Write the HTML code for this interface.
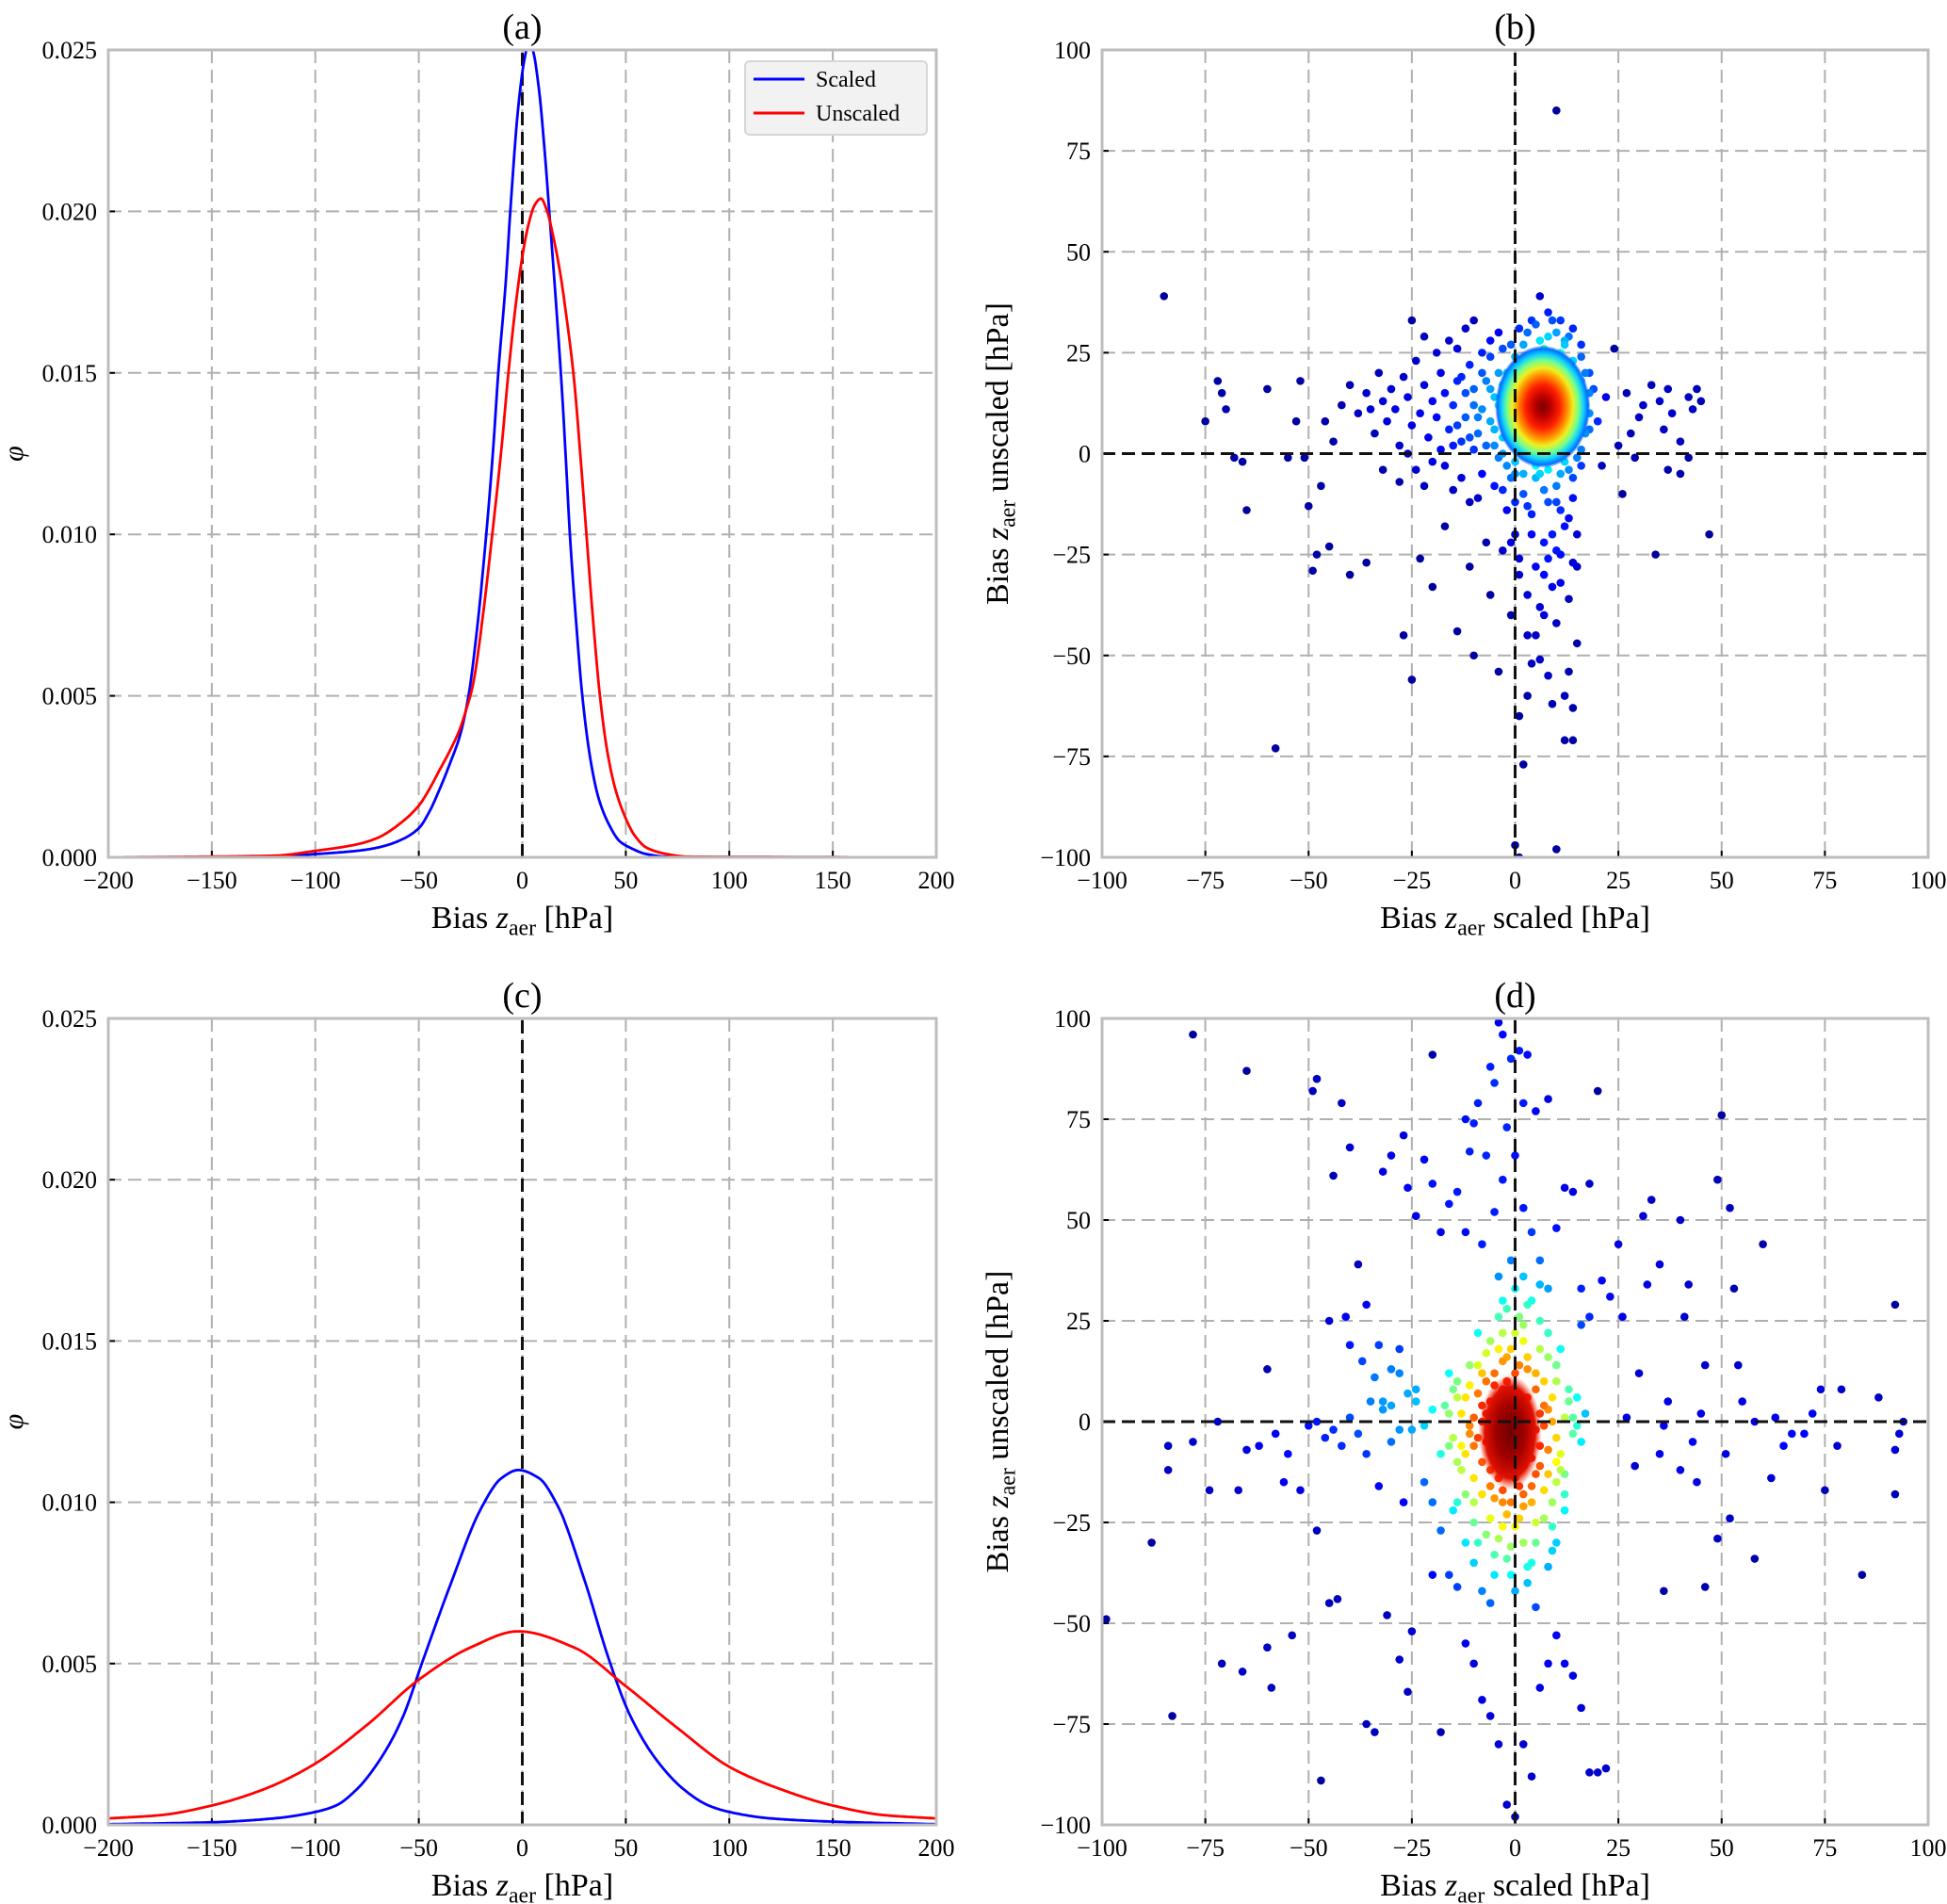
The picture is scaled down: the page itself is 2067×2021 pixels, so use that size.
<!DOCTYPE html>
<html><head><meta charset="utf-8"><style>
html,body{margin:0;padding:0;background:#fff}
svg{display:block;font-family:"Liberation Serif",serif}
</style></head><body>
<svg id="fig" width="2067" height="2021" viewBox="0 0 2067 2021" xmlns="http://www.w3.org/2000/svg">
<defs>
<radialGradient id="blobB" cx="50%" cy="50%" r="50%">
<stop offset="0" stop-color="#7a0000"/><stop offset="0.18" stop-color="#c00000"/><stop offset="0.36" stop-color="#ff2000"/><stop offset="0.52" stop-color="#ff9000"/><stop offset="0.64" stop-color="#f0f020"/><stop offset="0.76" stop-color="#70ff90"/><stop offset="0.86" stop-color="#10d0ff"/><stop offset="0.95" stop-color="#0070ff"/><stop offset="1" stop-color="#0040ff" stop-opacity="0"/>
</radialGradient>
<radialGradient id="blobD" cx="50%" cy="50%" r="50%">
<stop offset="0" stop-color="#700000"/><stop offset="0.45" stop-color="#a00000"/><stop offset="0.8" stop-color="#e01000"/><stop offset="1" stop-color="#ff3000" stop-opacity="0"/>
</radialGradient>
</defs>
</svg>
<script>
// ---------- data ----------
const xTicksPdf = [-200,-150,-100,-50,0,50,100,150,200];
const yTicksPdf = [0,0.005,0.010,0.015,0.020,0.025];
const yTickLabelsPdf = ["0.000","0.005","0.010","0.015","0.020","0.025"];
const ticksScatter = [-100,-75,-50,-25,0,25,50,75,100];

const aScaledX = [-200,-120,-100,-80,-70,-60,-50,-45,-40,-35,-30,-26,-22,-17.4,-14,-11.6,-8,-5.8,-2,1,3,5,8,11,13,16,18.6,21,23,26,29,33,37,42,47,52,60,70,200];
const aScaledY = [0,0.00002,0.0001,0.0002,0.0003,0.0005,0.0009,0.0014,0.0021,0.0029,0.0038,0.0050,0.0070,0.0100,0.0127,0.0150,0.0178,0.0200,0.0232,0.0247,0.0252,0.0250,0.0238,0.0217,0.0200,0.0174,0.0150,0.0124,0.0100,0.0073,0.0050,0.0030,0.0018,0.0010,0.0005,0.0003,0.0001,0.00002,0];
const aUnscaledX = [-200,-120,-100,-80,-70,-60,-50,-45,-40,-35,-30,-27,-24,-19,-14.5,-10,-6.7,-3,0,3,6,9,12,15,18,21,25,28,31,34,37.5,41,45,50,54,60,70,80,200];
const aUnscaledY = [0,0.00005,0.0002,0.0004,0.0006,0.0010,0.0016,0.0021,0.0027,0.0033,0.0040,0.0046,0.0053,0.0075,0.0100,0.0127,0.0150,0.0172,0.0186,0.0196,0.0202,0.0204,0.0200,0.0192,0.0182,0.0169,0.0148,0.0125,0.0100,0.0075,0.0050,0.0033,0.0021,0.0012,0.0007,0.0003,0.0001,0.00002,0];
const cScaledX = [-200,-150,-120,-100,-90,-80,-69,-58,-48,-35,-20,-10,-2,8,17,30,42,52,65,78,90,100,120,150,200];
const cScaledY = [0.00002,0.00008,0.0002,0.0004,0.0006,0.0011,0.002,0.0033,0.0051,0.0074,0.0098,0.01075,0.011,0.01075,0.0099,0.0076,0.0051,0.0034,0.002,0.0011,0.0006,0.0004,0.0002,0.0001,0.00002];
const cUnscaledX = [-200,-175,-150,-125,-100,-75,-50,-25,-2,25,50,75,100,125,150,175,200];
const cUnscaledY = [0.0002,0.0003,0.0006,0.0011,0.0019,0.0031,0.0045,0.0055,0.006,0.0055,0.0043,0.003,0.0018,0.0011,0.0006,0.0003,0.0002];

const bPoints = "7,11 6,10 8,12 7,13 5,11 9,10 6,12 8,9 7,8 6,14 8,14 5,9 9,13 4,12 10,11 7,15 6,7 8,6 5,14 9,15 4,9 10,8 3,11 11,12 7,17 6,5 8,4 4,15 10,15 3,8 11,9 2,12 12,11 7,19 5,17 9,18 6,3 8,2 3,15 11,16 2,9 12,8 1,11 13,12 7,21 4,19 10,20 5,1 9,1 2,17 12,17 1,6 13,7 0,13 14,11 6,23 8,23 3,21 11,22 4,3 10,3 0,17 14,16 -1,9 15,9 2,4 12,4 1,20 13,20 -1,14 15,14 5,25 9,25 7,26 3,24 11,25 -2,11 -2,6 15,5 0,2 14,2 -3,17 16,18 2,27 12,27 -3,4 6,28 8,29 0,24 14,23 -4,20 -5,14 -6,8 -5,2 -3,26 16,24 16,1 17,12 -7,18 -8,11 -6,24 -9,5 -4,-1 -2,-3 0,-2 3,-1 6,0 9,-1 12,-2 15,-1 18,6 18,20 -10,16 -11,22 -12,9 -13,3 -14,18 -15,12 -16,6 -17,15 -18,20 -19,9 -20,13 -21,4 -22,17 -23,10 -24,23 -25,7 -26,14 -27,19 -28,2 -29,11 -30,16 -31,8 -32,13 -33,20 -34,5 -35,11 -36,15 -14,26 -16,28 -19,25 -22,29 -25,33 -12,31 -10,33 -17,-3 -20,-2 -24,-4 -28,-7 -13,-6 -15,-9 -11,-12 -22,-8 -26,0 -18,1 -8,-5 -10,1 -32,-4 -38,10 -40,17 -42,12 -44,3 -46,8 -48,-25 -49,-29 -52,18 -53,8 -51,-1 -58,-73 -60,16 -65,-14 -66,-2 -70,11 -71,15 -72,18 -68,-1 -75,8 -85,39 -50,-13 -47,-8 -45,-23 -55,-1 -40,-30 -36,-27 -27,-45 -25,-56 -23,-26 -20,-33 -17,-18 -14,-44 -11,-28 -10,-50 -9,-11 -7,-22 -6,-35 -5,-8 -4,-54 -3,-24 -2,-14 -1,-40 0,-20 1,-65 2,-77 1,-100 0,-97 3,-60 4,-52 5,-45 6,-38 7,-30 8,-55 9,-33 10,-42 11,-25 12,-60 13,-36 14,-63 15,-47 2,-10 4,-15 6,-5 8,-12 10,-8 12,-18 14,-27 13,-4 11,-32 9,-20 7,-40 5,-28 3,-35 1,-30 0,-5 -1,-22 10,-98 12,-71 15,-28 5,-6 8,-26 11,-14 14,-11 3,-45 6,-51 9,-62 13,-54 14,-71 20,8 22,14 24,26 25,2 27,15 29,-1 31,12 33,17 35,13 36,6 37,-4 38,10 40,3 42,14 43,11 44,16 45,13 47,-20 34,-25 40,-5 28,5 21,-3 19,16 10,85 26,-10 30,9 37,16 42,-1 5,32 8,35 10,30 12,28 3,30 -1,27 6,39 11,33 14,31 -3,0 -2,20 -4,12 -5,6 -6,16 -7,2 -8,20 -9,9 -10,12 -11,4 -12,15 -13,19 -14,7 -15,2 -8,25 -6,28 -4,30 1,31 4,33 9,33 13,29 16,27 17,20 18,15 18,10 17,5 16,-3 14,-6 11,-5 8,-4 5,-3 2,-5 -1,-6 -3,-9 0,-12 3,-13 7,-9 10,-12 13,-16 15,-20 4,-20 7,-22 10,-24 1,-26";
const dPoints = "-1,-3 0,-2 -2,-4 -1,-6 0,0 -2,1 1,-5 -3,-2 1,2 -1,3 -2,-8 0,-9 2,-1 -4,0 -3,-6 2,-7 -1,-11 1,5 -3,4 3,2 -5,-3 3,-4 -2,-13 0,-14 -4,-10 2,-11 -5,3 4,0 -1,7 1,-16 -3,8 3,6 -6,-1 5,-2 -4,-14 4,-9 -6,5 6,2 -2,10 0,12 -7,-5 6,-6 -3,-17 2,-18 -5,9 5,8 -8,0 7,-1 -1,-20 1,14 -6,-12 5,-13 -8,4 8,3 -3,15 3,13 -9,-4 8,-7 -2,-23 1,-24 -7,10 7,10 -10,1 9,0 -5,-19 4,-20 -1,18 2,20 -9,7 9,6 -11,-3 10,-4 -6,-24 5,-25 -3,22 1,26 -11,9 10,10 -12,-8 11,-8 -4,-29 2,-30 -8,-18 7,-17 -13,2 12,1 -2,-34 0,33 -10,-14 10,-15 -13,-12 12,-13 -7,17 6,18 -14,6 13,5 -1,-38 -3,30 3,29 -5,-33 4,-35 -15,-4 14,-3 -9,22 8,22 -10,-25 9,-26 -16,2 15,-1 -1,40 0,-42 -12,-30 -14,-20 -16,12 -18,-8 -20,3 -22,-15 -24,8 -25,-2 -27,-20 -28,12 -30,-5 -32,3 -33,-16 -35,5 -36,-8 -38,-3 -40,1 -42,-6 -44,-2 -46,-4 -48,0 -50,-1 -52,-17 -55,-8 -56,-15 -58,-3 -60,13 -62,-6 -65,-7 -67,-17 -72,0 -74,-17 -78,-5 -84,-6 -84,-12 -88,-30 -99,-49 -78,96 -65,87 -48,85 -49,82 -42,79 -40,68 -38,39 -36,29 -33,19 -30,13 -28,18 -26,7 -24,5 -22,-1 -20,-20 -18,-27 -16,-38 -14,-41 -12,-55 -10,-60 -8,-69 -6,-73 -4,-80 -2,-95 0,-98 2,-80 4,-88 6,-66 8,-60 10,-53 12,-60 14,-63 16,-71 18,-87 20,-87 22,-86 -18,-77 -26,-67 -28,-59 -34,-77 -36,-75 -31,-48 -45,-45 -43,-44 -48,-27 -54,-53 -59,-66 -60,-56 -66,-62 -71,-60 -83,-73 -47,-89 -15,-22 -25,-52 -20,-38 -20,91 -12,75 -10,74 -6,88 -5,84 -4,99 -3,96 -1,90 1,92 3,91 2,79 5,77 8,80 -2,73 -7,66 -9,79 -11,67 -14,57 -16,54 -18,47 -20,59 -22,65 -24,51 -26,58 -27,71 -30,66 -32,62 -44,61 -45,25 -41,26 -40,19 -37,15 -34,11 -32,5 -30,4 -28,-2 -12,47 -8,44 -5,52 -3,60 0,66 2,53 4,47 6,40 8,33 10,48 12,58 14,57 16,33 18,59 20,82 21,35 23,31 16,24 18,26 25,44 26,26 27,1 29,-11 30,12 31,51 32,34 33,55 35,39 35,-8 36,-1 36,-42 37,5 40,-12 40,50 41,26 42,34 43,-5 44,-15 45,2 46,14 46,-41 49,-29 49,60 50,76 51,-8 52,53 52,-24 53,33 54,14 55,5 58,0 58,-34 60,44 62,-14 63,1 65,-6 67,-3 70,-3 72,2 74,8 75,-17 78,-6 79,8 84,-38 88,6 92,29 92,-18 92,-7 93,-3 94,0 3,-40 5,-46 -8,-42 8,-36 10,-30 12,-22 -10,-35 -6,-45 -12,6 -11,-1 -13,-6 -14,10 -9,14 -8,-10 -10,-20 -7,-28 -6,20 -4,26 -2,28 2,24 4,30 6,25 8,16 10,14 11,-12 12,-18 13,8 14,1 9,-20 7,-24 5,-30 3,-36 -1,-31 -3,-26 -5,-38 2,36 -4,36 6,34 9,-32 -9,-30 -12,-18 -14,-10 -15,8 -16,-6 -17,4 15,6 16,-5 17,2 11,18 -11,14 -6,-16 6,-11 -8,12 8,-13 -4,18 4,-16 -3,-20 3,16 0,22 0,-26 -7,2 7,4 -10,-6 10,-10 -5,12 5,12 -2,16 2,-21";

// ---------- helpers ----------
const NS = "http://www.w3.org/2000/svg";
const svg = document.getElementById('fig');
function mk(tag, attrs, parent){
  const e = document.createElementNS(NS, tag);
  for (const k in attrs) e.setAttribute(k, attrs[k]);
  (parent||svg).appendChild(e);
  return e;
}
function scale(d0,d1,r0,r1){ return v => r0 + (v-d0)/(d1-d0)*(r1-r0); }
function fmt(v){ return v<0 ? "\u2212"+Math.abs(v) : ""+v; }
function parsePts(s){ return s.trim().split(/\s+/).map(p=>p.split(',').map(Number)); }
function jet(t){
  t=Math.max(0,Math.min(1,t));
  const r=Math.max(0,Math.min(1,1.5-Math.abs(4*t-3)));
  const g=Math.max(0,Math.min(1,1.5-Math.abs(4*t-2)));
  const b=Math.max(0,Math.min(1,1.5-Math.abs(4*t-1)));
  return `rgb(${Math.round(r*255)},${Math.round(g*255)},${Math.round(b*255)})`;
}
function monotone(xs, ys){
  const n=xs.length, d=[], m=new Array(n);
  for(let i=0;i<n-1;i++) d.push((ys[i+1]-ys[i])/(xs[i+1]-xs[i]));
  m[0]=d[0]; m[n-1]=d[n-2];
  for(let i=1;i<n-1;i++){
    if(d[i-1]*d[i]<=0) m[i]=0;
    else { const w1=2*(xs[i+1]-xs[i])+(xs[i]-xs[i-1]), w2=(xs[i+1]-xs[i])+2*(xs[i]-xs[i-1]); m[i]=(w1+w2)/(w1/d[i-1]+w2/d[i]); }
  }
  return x=>{
    let i=0; while(i<n-2 && x>xs[i+1]) i++;
    const h=xs[i+1]-xs[i], t=(x-xs[i])/h, t2=t*t, t3=t2*t;
    return (2*t3-3*t2+1)*ys[i]+(t3-2*t2+t)*h*m[i]+(-2*t3+3*t2)*ys[i+1]+(t3-t2)*h*m[i+1];
  };
}
function zlabel(g, x, y, pre, post, size, rot){
  const t = mk('text', {x:x, y:y, 'font-size':size, 'text-anchor':'middle', fill:'#000'}, g);
  if (rot) t.setAttribute('transform', `rotate(-90 ${x} ${y})`);
  t.appendChild(document.createTextNode(pre));
  const z = mk('tspan', {'font-style':'italic'}, t); z.textContent='z';
  const s = mk('tspan', {'font-size':size*0.7, dy:size*0.22}, t); s.textContent='aer';
  const r = mk('tspan', {dy:-size*0.22}, t); r.textContent=post;
  return t;
}

function panel(cfg){
  const g = mk('g', {});
  
  
  const {x0,x1,y0,y1} = cfg;
  const sx = scale(cfg.xd[0],cfg.xd[1],x0,x1), sy = scale(cfg.yd[0],cfg.yd[1],y1,y0);
  const clipId = 'clip-'+cfg.name;
  const cp = mk('clipPath',{id:clipId},g); mk('rect',{x:x0,y:y0,width:x1-x0,height:y1-y0},cp);
  const grid = mk('g',{stroke:'#b0b0b0','stroke-width':2,'stroke-dasharray':'14,7'},g);
   
  cfg.xt.forEach(v=>{ if(v>cfg.xd[0]&&v<cfg.xd[1]) mk('line',{x1:sx(v),x2:sx(v),y1:y0,y2:y1},grid); });
  cfg.yt.forEach(v=>{ if(v>cfg.yd[0]&&v<cfg.yd[1]) mk('line',{x1:x0,x2:x1,y1:sy(v),y2:sy(v)},grid); });
  cfg.xt.forEach(v=>{ mk('line',{x1:sx(v),x2:sx(v),y1:y1,y2:y1-7,stroke:'#000','stroke-width':2},g); });
  cfg.yt.forEach(v=>{ mk('line',{x1:x0,x2:x0+7,y1:sy(v),y2:sy(v),stroke:'#000','stroke-width':2},g); });
  const plot = mk('g',{'clip-path':`url(#${clipId})`},g);
  cfg.draw(plot, sx, sy);
  const fr = mk('rect',{x:x0,y:y0,width:x1-x0,height:y1-y0,fill:'none',stroke:'#bdbdbd','stroke-width':3},g);
   
  const xl = mk('g',{'font-size':26,'text-anchor':'middle'},g);
   
  cfg.xt.forEach(v=>{ const t=mk('text',{x:sx(v),y:y1+33},xl); t.textContent=fmt(v); });
  const yl = mk('g',{'font-size':26,'text-anchor':'end'},g);
   
  cfg.yt.forEach((v,i)=>{ const t=mk('text',{x:x0-12,y:sy(v)+9},yl); t.textContent=cfg.ytl?cfg.ytl[i]:fmt(v); });
  const tt = mk('text',{x:(x0+x1)/2,y:y0-12,'font-size':38,'text-anchor':'middle'},g);
   
  tt.textContent = cfg.title;
  const xa = zlabel(g,(x0+x1)/2,y1+75,'Bias ',cfg.xpost,34,false);
   
  if (cfg.ylabelZ){
    const ya = zlabel(g,x0-100,(y0+y1)/2,'Bias ',' unscaled [hPa]',34,true);
     
  } else {
    const ya = mk('text',{x:24,y:(y0+y1)/2,'font-size':30,'font-style':'italic','text-anchor':'middle',transform:`rotate(-90 24 ${(y0+y1)/2})`},g);
     
    ya.textContent='φ';
  }
  return g;
}

function curvePath(xs, ys, sx, sy){
  const f = monotone(xs, ys);
  let d='';
  for(let x=xs[0]; x<=xs[xs.length-1]; x+=0.5){
    d += (d?' L':'M') + sx(x).toFixed(1)+','+sy(f(x)).toFixed(1);
  }
  return d;
}
function pdfDraw(xsB,ysB,xsR,ysR){
  return (p,sx,sy)=>{
    const z = mk('line',{x1:sx(0),x2:sx(0),y1:sy(0),y2:sy(0.025),stroke:'#111','stroke-width':3,'stroke-dasharray':'14,7'},p);
     
    const b = mk('path',{d:curvePath(xsB,ysB,sx,sy),fill:'none',stroke:'#0000ff','stroke-width':2.8,'stroke-linejoin':'round'},p);
     
    const r = mk('path',{d:curvePath(xsR,ysR,sx,sy),fill:'none',stroke:'#ff0000','stroke-width':2.8,'stroke-linejoin':'round'},p);
     
  };
}
function scatterDraw(str, bw, blobId, blobK, gamma){
  return (p,sx,sy)=>{
    const pts = parsePts(str);
    const dens = pts.map(a=>pts.reduce((s,b)=>{const dx=(a[0]-b[0])/bw[0],dy=(a[1]-b[1])/bw[1];return s+Math.exp(-0.5*(dx*dx+dy*dy));},0));
    const mx = Math.max(...dens), mn = Math.min(...dens);
    let wx=0,wy=0,ws=0,vx=0,vy=0;
    pts.forEach((a,i)=>{const w=Math.pow(dens[i]/mx,4);wx+=w*a[0];wy+=w*a[1];ws+=w;});
    wx/=ws; wy/=ws;
    pts.forEach((a,i)=>{const w=Math.pow(dens[i]/mx,4);vx+=w*(a[0]-wx)**2;vy+=w*(a[1]-wy)**2;});
    vx=Math.sqrt(vx/ws); vy=Math.sqrt(vy/ws);
    const idx = pts.map((_,i)=>i).sort((a,b)=>dens[a]-dens[b]);
    const dg = mk('g',{},p);
     
    idx.forEach(i=>{
      const t = Math.pow((dens[i]-mn)/(mx-mn),gamma);
      const c = mk('circle',{cx:sx(pts[i][0]),cy:sy(pts[i][1]),r:4.3,fill:jet(0.03+0.97*t)},dg);
      
      
    });
    const bl = mk('ellipse',{cx:sx(wx),cy:sy(wy),rx:Math.abs(sx(vx*blobK[0])-sx(0)),ry:Math.abs(sy(vy*blobK[1])-sy(0)),fill:`url(#${blobId})`},p);
     
    const gH = mk('line',{x1:sx(-100),x2:sx(100),y1:sy(0),y2:sy(0),stroke:'#111','stroke-width':3,'stroke-dasharray':'14,7'},p);
     
    const gV = mk('line',{x1:sx(0),x2:sx(0),y1:sy(-100),y2:sy(100),stroke:'#111','stroke-width':3,'stroke-dasharray':'14,7'},p);
     
  };
}

const T = 53, B = 910, T2 = 1081, B2 = 1937, L = 115, R = 994, L2 = 1170, R2 = 2047;
panel({name:'panel-a',title:'(a)',x0:L,x1:R,y0:T,y1:B,xd:[-200,200],yd:[0,0.025],xt:xTicksPdf,yt:yTicksPdf,ytl:yTickLabelsPdf,xpost:' [hPa]',draw:pdfDraw(aScaledX,aScaledY,aUnscaledX,aUnscaledY)});
panel({name:'panel-b',title:'(b)',x0:L2,x1:R2,y0:T,y1:B,xd:[-100,100],yd:[-100,100],xt:ticksScatter,yt:ticksScatter,xpost:' scaled [hPa]',ylabelZ:true,draw:scatterDraw(bPoints,[4,6],'blobB',[2.9,2.6],1.5)});
panel({name:'panel-c',title:'(c)',x0:L,x1:R,y0:T2,y1:B2,xd:[-200,200],yd:[0,0.025],xt:xTicksPdf,yt:yTicksPdf,ytl:yTickLabelsPdf,xpost:' [hPa]',draw:pdfDraw(cScaledX,cScaledY,cUnscaledX,cUnscaledY)});
panel({name:'panel-d',title:'(d)',x0:L2,x1:R2,y0:T2,y1:B2,xd:[-100,100],yd:[-100,100],xt:ticksScatter,yt:ticksScatter,xpost:' scaled [hPa]',ylabelZ:true,draw:scatterDraw(dPoints,[6,10],'blobD',[1.4,1.4],1.0)});

// legend
const lg = mk('g',{});
 
mk('rect',{x:791,y:65,width:193,height:78,rx:5,fill:'#f2f2f2',stroke:'#d6d6d6','stroke-width':2},lg);
const e1 = mk('g',{},lg);  
mk('line',{x1:800,x2:854,y1:84,y2:84,stroke:'#0000ff','stroke-width':3},e1);
const t1 = mk('text',{x:866,y:92,'font-size':24},e1); t1.textContent='Scaled';
const e2 = mk('g',{},lg);  
mk('line',{x1:800,x2:854,y1:120,y2:120,stroke:'#ff0000','stroke-width':3},e2);
const t2 = mk('text',{x:866,y:128,'font-size':24},e2); t2.textContent='Unscaled';
</script>
</body></html>
